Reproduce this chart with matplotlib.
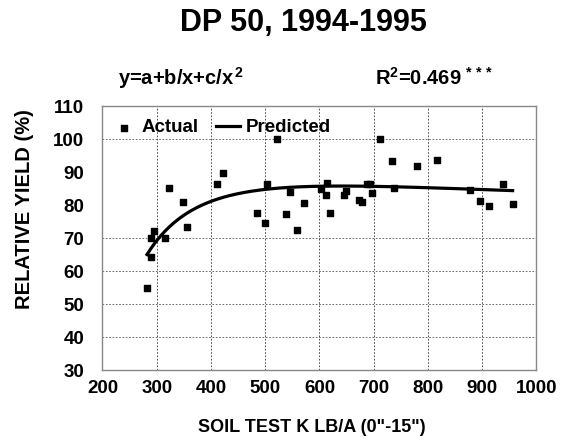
import numpy as np
import matplotlib.pyplot as plt

plt.rcParams['font.family'] = ['Liberation Sans', 'DejaVu Sans']
plt.rcParams['font.weight'] = 'bold'
plt.rcParams['mathtext.fontset'] = 'custom'
plt.rcParams['mathtext.rm'] = 'Liberation Sans:bold'
plt.rcParams['mathtext.it'] = 'Liberation Sans:bold'
plt.rcParams['mathtext.bf'] = 'Liberation Sans:bold'

# soil test K (lb/A) and relative yield (%)
soil_k = [282, 289, 289, 295, 316, 323, 349, 355, 411, 423, 521, 485, 499, 503,
          546, 538, 558, 571, 603, 613, 612, 620, 645, 649, 672, 678, 687, 693,
          696, 711, 734, 737, 779, 817, 877, 896, 913, 938, 956]
rel_yield = [55.0, 64.2, 70.0, 72.3, 70.2, 85.3, 81.1, 73.4, 86.4, 89.7, 100.1,
             77.5, 74.5, 86.5, 83.9, 77.4, 72.6, 80.7, 84.8, 86.8, 83.0, 77.6,
             83.1, 84.3, 81.6, 81.0, 86.4, 86.4, 83.6, 100.1, 93.5, 85.2, 91.9,
             93.7, 84.7, 81.3, 79.9, 86.5, 80.3]

# model y = a + b/x + c/x^2
coef_a, coef_b, coef_c = 73.0, 16400.0, -5.255e6
r_squared = "0.469"

x_ticks = [200, 300, 400, 500, 600, 700, 800, 900, 1000]
y_ticks = [30, 40, 50, 60, 70, 80, 90, 100, 110]
y_grid = [40, 50, 60, 70, 100]

fig = plt.figure(figsize=(5.61, 4.41), dpi=100)
ax = fig.add_axes([0.1827, 0.1599, 0.7736, 0.5997])

ax.set_xlim(200, 1000)
ax.set_ylim(30, 110)
ax.set_xticks(x_ticks)
ax.set_yticks(y_ticks)
ax.tick_params(axis='x', length=0, labelsize=13.5, pad=7)
ax.tick_params(axis='y', length=0, labelsize=13.5, pad=13)
for lab in ax.get_xticklabels() + ax.get_yticklabels():
    lab.set_fontweight('bold')

ax.xaxis.grid(True, ls=(0, (2, 2)), color='#333333', lw=0.6)
for yv in y_grid:
    ax.axhline(yv, ls=(0, (2, 2)), color='#555555', lw=0.6, zorder=0)
for sp in ax.spines.values():
    sp.set_color('#888888')
    sp.set_linewidth(1.0)

ax.scatter(soil_k, rel_yield, marker='s', s=24, color='black', zorder=3,
           label='Actual')

xs = np.linspace(min(soil_k), max(soil_k), 200)
ys = coef_a + coef_b / xs + coef_c / xs ** 2
ax.plot(xs, ys, color='black', lw=2.3, zorder=4, label='Predicted')

ax.legend(loc='upper left', ncol=2, frameon=False,
          handlelength=1.3, handletextpad=0.3, columnspacing=0.9,
          markerscale=0.75, borderaxespad=0.1, bbox_to_anchor=(0.0, 0.985),
          prop={'weight': 'bold', 'size': 13.5})

fig.text(0.555, 0.0204, 'SOIL TEST K LB/A (0"-15")', ha='center',
         va='baseline', fontsize=13, fontweight='bold')
fig.text(0.043, 0.527, 'RELATIVE YIELD (%)', ha='center', va='center',
         rotation=90, fontsize=14.5, fontweight='bold')

fig.text(0.541, 0.930, 'DP 50, 1994-1995', ha='center', va='baseline',
         fontsize=22, fontweight='bold')
fig.text(0.323, 0.807, r'y=a+b/x+c/x$^{\,2}$', ha='center', va='baseline',
         fontsize=14.5, fontweight='bold')
fig.text(0.774, 0.807, r'R$^{2}$=' + r_squared + r'$^{\,***}$', ha='center',
         va='baseline', fontsize=14.5, fontweight='bold')

fig.savefig('out.png', dpi=100)
